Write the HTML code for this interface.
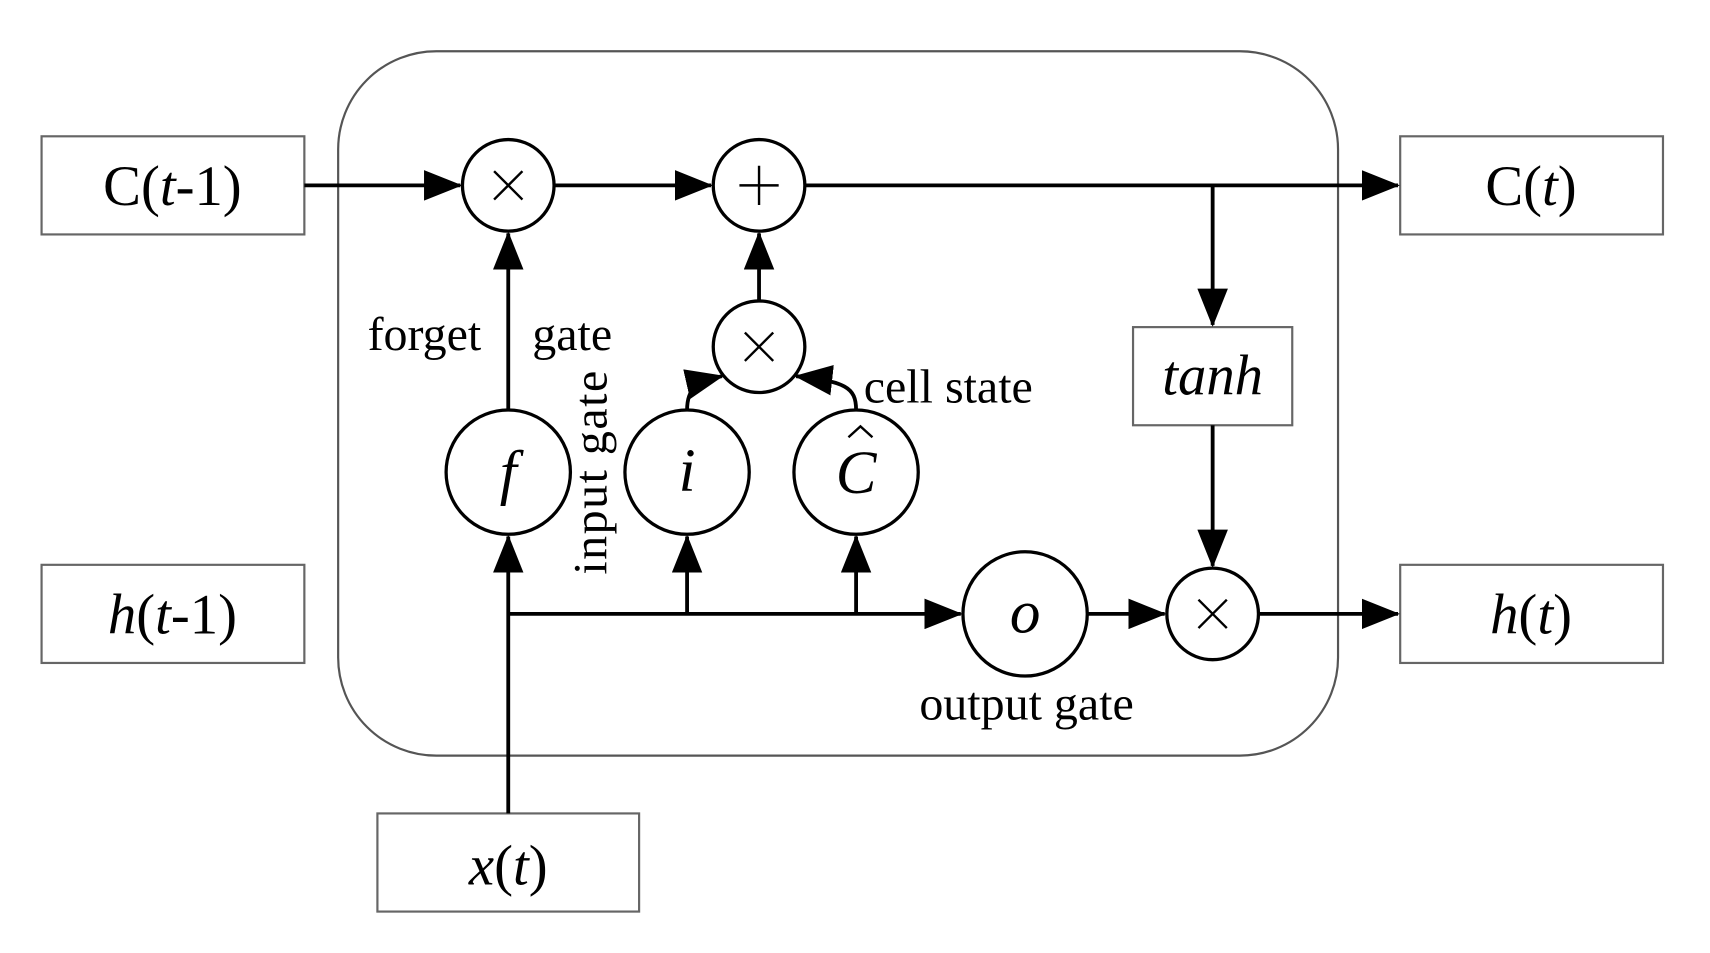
<!DOCTYPE html>
<html><head><meta charset="utf-8"><style>html,body{margin:0;padding:0;background:#fff}svg{display:block}</style></head>
<body>
<svg width="1710" height="953" viewBox="0 0 1568 874" xmlns="http://www.w3.org/2000/svg" font-family="'Liberation Serif', serif">
<defs>
<marker id="a" markerWidth="10" markerHeight="8" refX="9.5" refY="4" orient="auto" markerUnits="strokeWidth"><path d="M0,0 L10,4 L0,8 Z" fill="#000"/></marker>
</defs>
<rect x="310" y="47" width="917" height="646" rx="90" fill="none" stroke="#555" stroke-width="2"/>
<g fill="none" stroke="#666" stroke-width="2">
<rect x="38" y="125" width="241" height="90"/>
<rect x="38" y="518" width="241" height="90"/>
<rect x="1284" y="125" width="241" height="90"/>
<rect x="1284" y="518" width="241" height="90"/>
<rect x="346" y="746" width="240" height="90"/>
<rect x="1039" y="300" width="146" height="90"/>
</g>
<g fill="none" stroke="#000" stroke-width="3">
<circle cx="466" cy="170" r="42"/>
<circle cx="696" cy="170" r="42"/>
<circle cx="696" cy="318" r="42"/>
<circle cx="466" cy="433" r="57"/>
<circle cx="630" cy="433" r="57"/>
<circle cx="785" cy="433" r="57"/>
<circle cx="940" cy="563" r="57"/>
<circle cx="1112" cy="563" r="42"/>
</g>
<g fill="none" stroke="#000" stroke-width="2.2">
<path d="M453,157 L479,183 M479,157 L453,183"/>
<path d="M683,305 L709,331 M709,305 L683,331"/>
<path d="M1099,550 L1125,576 M1125,550 L1099,576"/>
<path d="M696,152 L696,188 M678,170 L714,170"/>
<path d="M778,401 L789,391 L800,401"/>
</g>
<g fill="none" stroke="#000" stroke-width="3.5" marker-end="url(#a)">
<line x1="279" y1="170" x2="422" y2="170"/>
<line x1="508" y1="170" x2="652" y2="170"/>
<line x1="738" y1="170" x2="1282" y2="170"/>
<line x1="1112" y1="170" x2="1112" y2="298"/>
<line x1="1112" y1="390" x2="1112" y2="519"/>
<line x1="1154" y1="563" x2="1282" y2="563"/>
<line x1="997" y1="563" x2="1068" y2="563"/>
<line x1="466" y1="746" x2="466" y2="492"/>
<line x1="466" y1="563" x2="881" y2="563"/>
<line x1="630" y1="563" x2="630" y2="492"/>
<line x1="785" y1="563" x2="785" y2="492"/>
<line x1="466" y1="376" x2="466" y2="214"/>
<line x1="696" y1="276" x2="696" y2="214"/>
<path d="M630,376 C630,355 640,350 662,345"/>
<path d="M785,376 C785,355 775,350 730,345"/>
</g>
<g font-size="56" font-style="italic" text-anchor="middle">
<text x="466" y="452">f</text><text x="630" y="450">i</text><text x="785" y="452">C</text><text x="940" y="580">o</text>
</g>
<g font-size="52" text-anchor="middle">
<text x="158" y="188">C(<tspan font-style="italic">t</tspan>-1)</text>
<text x="158" y="581"><tspan font-style="italic">h</tspan>(<tspan font-style="italic">t</tspan>-1)</text>
<text x="1404" y="188">C(<tspan font-style="italic">t</tspan>)</text>
<text x="1404" y="581"><tspan font-style="italic">h</tspan>(<tspan font-style="italic">t</tspan>)</text>
<text x="466" y="811"><tspan font-style="italic">x</tspan>(<tspan font-style="italic">t</tspan>)</text>
<text x="1112" y="362" font-style="italic">tanh</text>
</g>
<g font-size="44">
<text x="337" y="321">forget</text>
<text x="488" y="321">gate</text>
<text x="792" y="369">cell state</text>
<text x="843" y="660">output gate</text>
<text transform="translate(556,527) rotate(-90)" textLength="187">input gate</text>
</g>
</svg>
</body></html>
